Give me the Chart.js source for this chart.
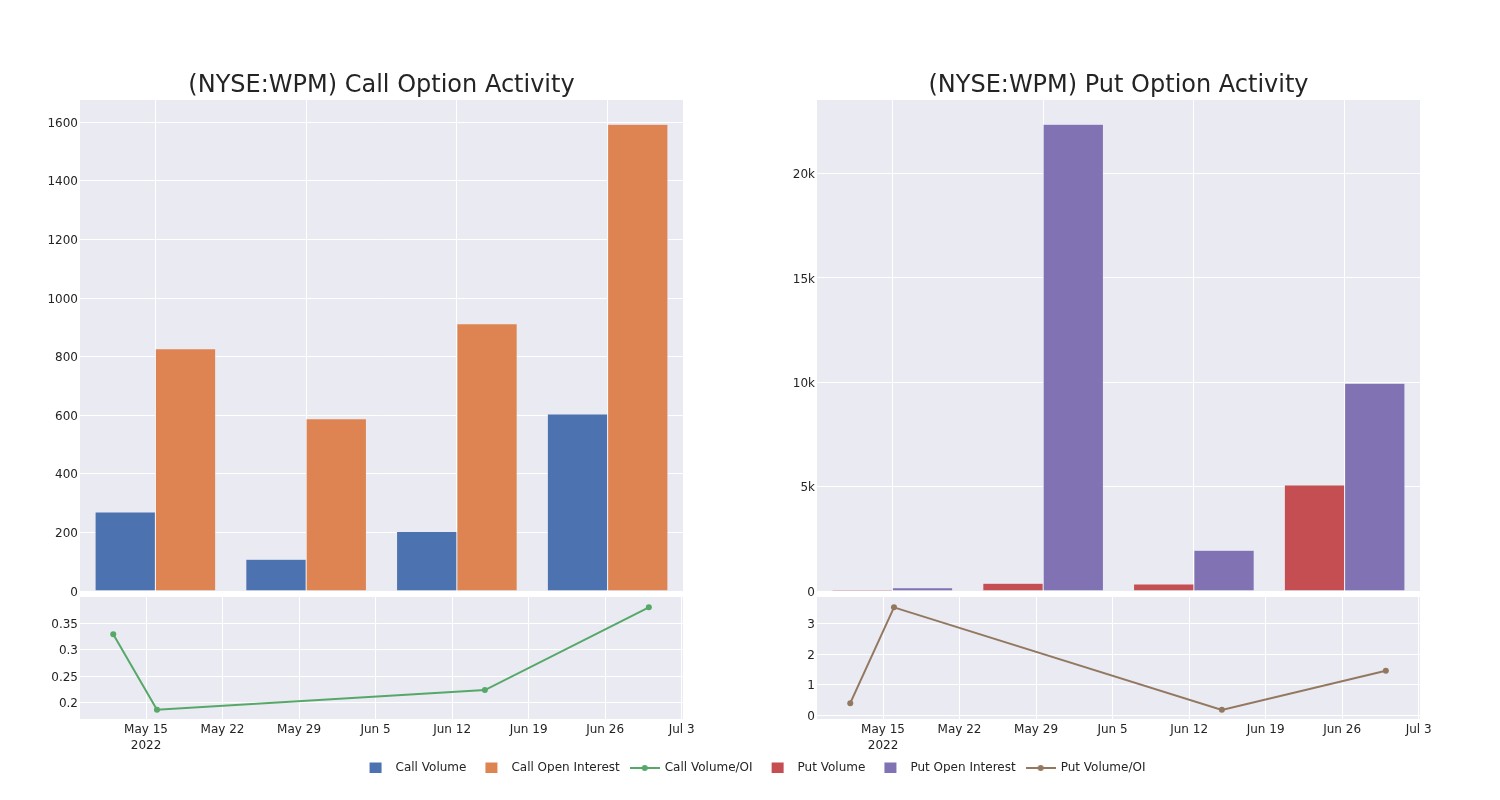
<!DOCTYPE html>
<html><head><meta charset="utf-8">
<script src="https://cdn.jsdelivr.net/npm/chart.js@4.4.0/dist/chart.umd.min.js"></script>
<style>
html,body{margin:0;padding:0;background:#fff;width:1500px;height:800px;overflow:hidden;position:relative;}
canvas{position:absolute;}
</style></head><body>
<canvas id="callBars" width="763" height="611" style="left:0;top:0"></canvas>
<canvas id="putBars" width="763" height="611" style="left:737px;top:0"></canvas>
<canvas id="callRatio" width="763" height="172" style="left:0;top:585px"></canvas>
<canvas id="putRatio" width="763" height="172" style="left:737px;top:585px"></canvas>
<canvas id="legend" width="1500" height="44" style="left:0;top:751px"></canvas>
<script>
// ---- data ----
const categories = ['2022-05-12', '2022-05-16', '2022-06-15', '2022-06-30'];
const callVolume = [270, 108, 203, 604];
const callOpenInterest = [827, 588, 912, 1593];
const putVolume = [64, 368, 336, 5084];
const putOpenInterest = [160, 22366, 1950, 9960];
const ratioDates = ['2022-05-12', '2022-05-16', '2022-06-15', '2022-06-30'];
const callVolumeOI = [0.329, 0.187, 0.224, 0.380];
const putVolumeOI = [0.39, 3.53, 0.17, 1.45];
const xTickDates = ['2022-05-15', '2022-05-22', '2022-05-29', '2022-06-05', '2022-06-12', '2022-06-19', '2022-06-26', '2022-07-03'];
const xTickLabels = [['May 15', '2022'], 'May 22', 'May 29', 'Jun 5', 'Jun 12', 'Jun 19', 'Jun 26', 'Jul 3'];
const callBarTicks = [0, 200, 400, 600, 800, 1000, 1200, 1400, 1600];
const callBarTickLabels = ['0', '200', '400', '600', '800', '1000', '1200', '1400', '1600'];
const putBarTicks = [0, 5000, 10000, 15000, 20000];
const putBarTickLabels = ['0', '5k', '10k', '15k', '20k'];
const callRatioTicks = [0.2, 0.25, 0.3, 0.35];
const callRatioTickLabels = ['0.2', '0.25', '0.3', '0.35'];
const putRatioTicks = [0, 1, 2, 3];
const putRatioTickLabels = ['0', '1', '2', '3'];
const xRangeStart = '2022-05-08T23:00:00';
const xRangeEnd = '2022-07-03T03:00:00';
const callBarMax = 1676;
const putBarMax = 23530;
const callRatioRange = [0.1694, 0.3994];
const putRatioRange = [-0.13, 3.87];
const titles = ['(NYSE:WPM) Call Option Activity', '(NYSE:WPM) Put Option Activity'];
const legendNames = ['Call Volume', 'Call Open Interest', 'Call Volume/OI', 'Put Volume', 'Put Open Interest', 'Put Volume/OI'];
const legendKinds = ['bar', 'bar', 'line', 'bar', 'bar', 'line'];

// ---- styles ----
const COLORS = {
  callVol: 'rgb(76,114,176)', callOI: 'rgb(221,132,82)', callRatio: 'rgb(85,168,104)',
  putVol: 'rgb(196,78,82)', putOI: 'rgb(129,114,179)', putRatio: 'rgb(147,120,96)'
};
const legendColors = [COLORS.callVol, COLORS.callOI, COLORS.callRatio, COLORS.putVol, COLORS.putOI, COLORS.putRatio];
const TEXT = 'rgb(36,36,36)';
const PLOT_BG = 'rgb(234,234,242)';
Chart.defaults.font.family = "'DejaVu Sans', sans-serif";
Chart.defaults.font.size = 12;
Chart.defaults.color = TEXT;

const toDay = s => Date.parse(s + (s.length === 10 ? 'T00:00:00Z' : 'Z')) / 86400000;

const plotBg = {
  id: 'plotBg',
  beforeDraw(chart) {
    const {ctx, chartArea: a} = chart;
    ctx.save();
    ctx.fillStyle = PLOT_BG;
    ctx.fillRect(a.left, a.top, a.right - a.left, a.bottom - a.top);
    ctx.restore();
  }
};

const gridOpts = {color: '#ffffff', lineWidth: 1, drawTicks: false};

function yAxis(min, max, tickVals, tickLabels) {
  return {
    min, max,
    afterBuildTicks: s => { s.ticks = tickVals.map(v => ({value: v})); },
    ticks: {padding: 2, autoSkip: false, labelOffset: 1.5, callback: (v, i) => tickLabels[i]},
    grid: gridOpts,
    border: {display: false},
    afterFit: s => { s.width = 80; }
  };
}

function barChart(id, title, labels, d1, d2, c1, c2, n1, n2, yMax, tickVals, tickLabels) {
  return new Chart(document.getElementById(id), {
    type: 'bar',
    data: {
      labels,
      datasets: [
        {label: n1, data: d1, backgroundColor: c1, borderColor: PLOT_BG, borderWidth: 0.5},
        {label: n2, data: d2, backgroundColor: c2, borderColor: PLOT_BG, borderWidth: 0.5}
      ]
    },
    options: {
      responsive: false, animation: false, events: [],
      layout: {padding: {top: 69.2, right: 80, left: 0, bottom: 0}},
      datasets: {bar: {categoryPercentage: 0.8, barPercentage: 1.0}},
      plugins: {
        legend: {display: false}, tooltip: {enabled: false},
        title: {display: true, text: title, fullSize: false, color: TEXT,
                font: {size: 24, weight: 'normal', lineHeight: 1.2}, padding: {top: 2, bottom: 0}}
      },
      scales: {
        x: {
          offset: true,
          ticks: {display: false},
          grid: Object.assign({}, gridOpts, {offset: false}),
          border: {display: false},
          afterFit: s => { s.height = 20; }
        },
        y: yAxis(0, yMax, tickVals, tickLabels)
      }
    },
    plugins: [plotBg]
  });
}

function ratioChart(id, name, values, color, range, tickVals, tickLabels) {
  return new Chart(document.getElementById(id), {
    type: 'scatter',
    data: {
      datasets: [{
        label: name,
        data: ratioDates.map((d, i) => ({x: toDay(d), y: values[i]})),
        showLine: true, borderColor: color, backgroundColor: color, borderWidth: 2,
        pointRadius: 3, pointBackgroundColor: color, pointBorderWidth: 0
      }]
    },
    options: {
      responsive: false, animation: false, events: [],
      layout: {padding: {top: 12, right: 80, left: 0, bottom: 0}},
      plugins: {legend: {display: false}, tooltip: {enabled: false}},
      scales: {
        x: {
          type: 'linear', min: toDay(xRangeStart), max: toDay(xRangeEnd),
          afterBuildTicks: s => { s.ticks = xTickDates.map(d => ({value: toDay(d)})); },
          ticks: {padding: 3, maxRotation: 0, autoSkip: false, font: {lineHeight: 1.3333},
                  callback: (v, i) => xTickLabels[i]},
          grid: gridOpts,
          border: {display: false},
          afterFit: s => { s.height = 38; }
        },
        y: yAxis(range[0], range[1], tickVals, tickLabels)
      }
    },
    plugins: [plotBg]
  });
}

barChart('callBars', titles[0], categories, callVolume, callOpenInterest, COLORS.callVol, COLORS.callOI,
  legendNames[0], legendNames[1], callBarMax, callBarTicks, callBarTickLabels);
barChart('putBars', titles[1], categories, putVolume, putOpenInterest, COLORS.putVol, COLORS.putOI,
  legendNames[3], legendNames[4], putBarMax, putBarTicks, putBarTickLabels);
ratioChart('callRatio', legendNames[2], callVolumeOI, COLORS.callRatio, callRatioRange, callRatioTicks, callRatioTickLabels);
ratioChart('putRatio', legendNames[5], putVolumeOI, COLORS.putRatio, putRatioRange, putRatioTicks, putRatioTickLabels);

// ---- shared legend ----
function swatch(color, kind) {
  const c = document.createElement('canvas');
  c.width = 30; c.height = 12;
  const g = c.getContext('2d');
  if (kind === 'bar') {
    g.fillStyle = color;
    g.fillRect(9, 0.5, 12, 11);
  } else {
    g.strokeStyle = color; g.lineWidth = 2;
    g.beginPath(); g.moveTo(0, 6); g.lineTo(30, 6); g.stroke();
    g.fillStyle = color;
    g.beginPath(); g.arc(15, 6, 3, 0, Math.PI * 2); g.fill();
  }
  return c;
}
const swatches = legendNames.map((n, i) => swatch(legendColors[i], legendKinds[i]));

new Chart(document.getElementById('legend'), {
  type: 'bar',
  data: {labels: [], datasets: []},
  options: {
    responsive: false, animation: false, events: [],
    layout: {padding: {left: 7, top: 0, right: 0, bottom: 0}},
    scales: {x: {display: false}, y: {display: false}},
    plugins: {
      tooltip: {enabled: false},
      legend: {
        display: true, position: 'top', align: 'center',
        labels: {
          usePointStyle: true, pointStyleWidth: 28, boxHeight: 12, padding: 11,
          color: TEXT, font: {size: 12, lineHeight: 1.2},
          generateLabels: () => legendNames.map((t, i) => ({
            text: t, fillStyle: legendColors[i], strokeStyle: legendColors[i], lineWidth: 0,
            hidden: false, pointStyle: swatches[i], datasetIndex: i, fontColor: TEXT
          }))
        }
      }
    }
  }
});
</script>
</body></html>
